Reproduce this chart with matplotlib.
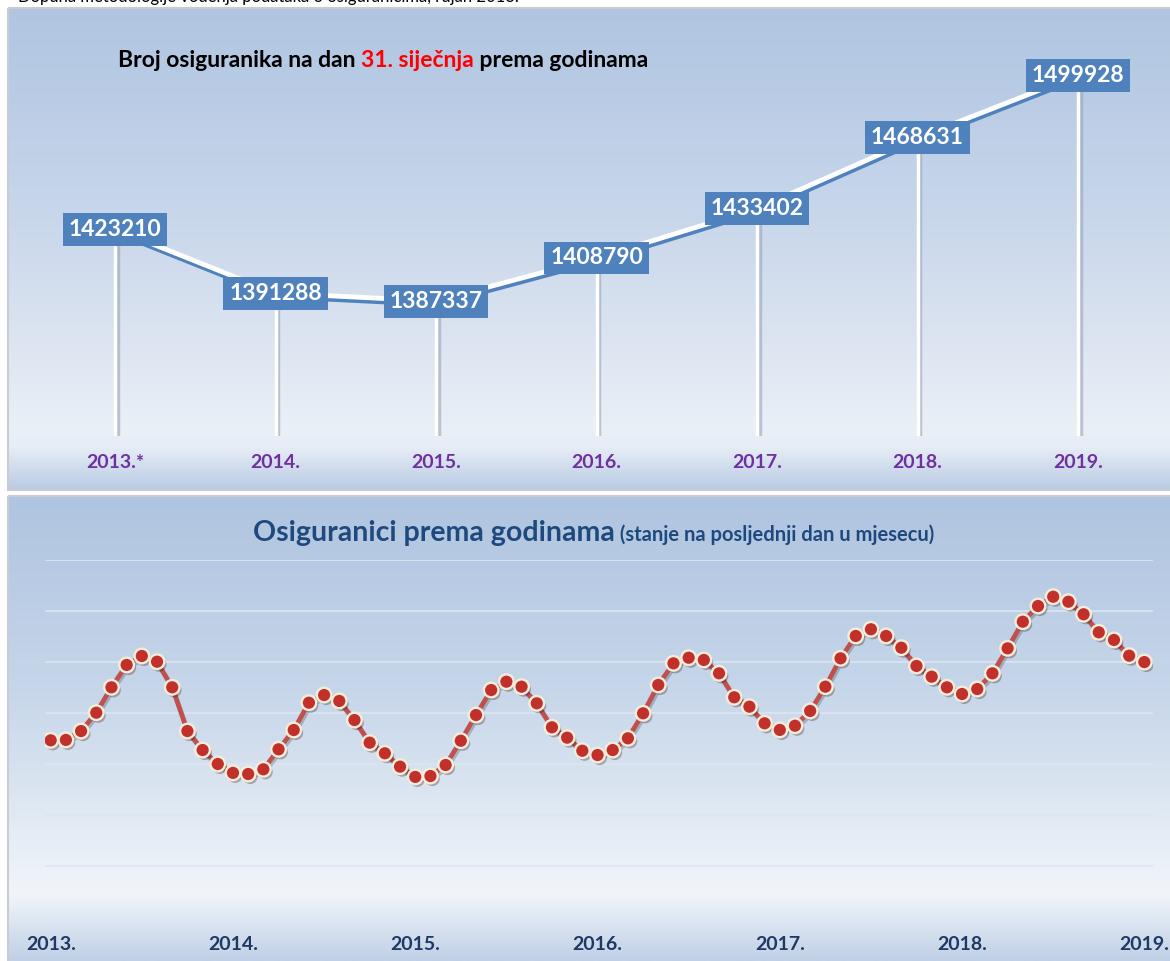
import numpy as np
import matplotlib
matplotlib.use("Agg")
import matplotlib.pyplot as plt
import matplotlib.patheffects as pe
from matplotlib.patches import Rectangle
from matplotlib.colors import to_rgb

plt.rcParams['font.family'] = ['Lato', 'DejaVu Sans']

W, H = 1170, 961

# top chart - insured persons on 31 January
years_top = ['2013.*', '2014.', '2015.', '2016.', '2017.', '2018.', '2019.']
jan_values = [1423210, 1391288, 1387337, 1408790, 1433402, 1468631, 1499928]

# bottom chart - end of month values, Jan 2013 .. Jan 2019
monthly_2013 = [1423210, 1423600, 1432300, 1450300, 1475200, 1497100,
                1505900, 1500300, 1475200, 1432300, 1413700, 1400000]
monthly_2014 = [1391288, 1390200, 1394800, 1414400, 1433300, 1460100,
                1467600, 1461800, 1443100, 1420900, 1410500, 1397400]
monthly_2015 = [1387337, 1388200, 1399000, 1422800, 1448000, 1472500,
                1480700, 1475800, 1459500, 1436000, 1425800, 1413000]
monthly_2016 = [1408790, 1413700, 1425200, 1449700, 1477500, 1498700,
                1504200, 1502000, 1488900, 1465400, 1456200, 1439900]
monthly_2017 = [1433402, 1437500, 1452000, 1475800, 1503600, 1525500,
                1532100, 1525500, 1514000, 1496100, 1485600, 1475200]
monthly_2018 = [1468631, 1473500, 1488900, 1513400, 1539500, 1554900,
                1564000, 1559100, 1546800, 1529100, 1521600, 1506200]
monthly_2019 = [1499928]
year_labels = ['2013.', '2014.', '2015.', '2016.', '2017.', '2018.', '2019.']

monthly = (monthly_2013 + monthly_2014 + monthly_2015 + monthly_2016
           + monthly_2017 + monthly_2018 + monthly_2019)


def axes_px(fig, x0, y0, x1, y1):
    return fig.add_axes([x0 / W, 1 - y1 / H, (x1 - x0) / W, (y1 - y0) / H])


def gradient(y0, y1, stops):
    ys = np.linspace(y0, y1, 300)
    pos = [s[0] for s in stops]
    cols = np.array([to_rgb(s[1]) for s in stops])
    img = np.stack([np.interp(ys, pos, cols[:, k]) for k in range(3)], axis=-1)
    return img[:, None, :]


fig = plt.figure(figsize=(W / 100, H / 100), dpi=100)
fig.patch.set_facecolor('white')

# ---- backgrounds ----
bg = fig.add_axes([0, 0, 1, 1])
bg.set_xlim(0, W)
bg.set_ylim(H, 0)
bg.axis('off')

top_stops = [(8, '#B0C5E1'), (200, '#C6D5EA'), (330, '#DAE3F0'), (430, '#EAF0F7'),
             (448, '#E6EDF6'), (490, '#B9CBE3')]
bg.imshow(gradient(8, 490, top_stops), extent=(8, W, 490, 8), aspect='auto')
bg.add_patch(Rectangle((8, 8), W, 482, fill=False, ec='#C9CDD3', lw=1.5))

bot_stops = [(496, '#AFC4E0'), (700, '#C8D7EA'), (860, '#EAF0F7'), (895, '#F1F5FA'),
             (961, '#C0D0E6')]
bg.imshow(gradient(496, H, bot_stops), extent=(8, W, H, 496), aspect='auto')
bg.add_patch(Rectangle((8, 496), W, 470, fill=False, ec='#C9CDD3', lw=1.5))

# header line above the chart, cut by the top edge as in the original
fig.text(18 / W, 1 + 3 / H, 'Dopuna metodologije vođenja podataka o osiguranicima, rujan 2013.',
         fontsize=12, color='black', va='center', ha='left')

# ---- top chart ----
ax1 = axes_px(fig, 34.75, 14.7, 1158.25, 436.2)
ax1.set_xlim(-0.5, 6.5)
ax1.set_ylim(1320000, 1530000)
ax1.axis('off')

xs = np.arange(len(jan_values))
for i, v in enumerate(jan_values):
    ax1.plot([i, i], [1320000, v], color='white', lw=2.5, zorder=1,
             path_effects=[pe.SimpleLineShadow(offset=(1.8, 0), shadow_color='#9AA6B8', alpha=0.6),
                           pe.Normal()])
ax1.plot(xs, jan_values, color='white', lw=3.5, zorder=3, solid_capstyle='butt',
         path_effects=[pe.SimpleLineShadow(offset=(0.5, -2.5), shadow_color='#4F81BD', alpha=1),
                       pe.Normal()])
for i, v in enumerate(jan_values):
    ax1.text(i, v, str(v), ha='center', va='center', color='white', fontsize=16.5,
             fontweight='bold', zorder=5,
             bbox=dict(boxstyle='square,pad=0.26', fc='#4F81BD', ec='none'))

for i, lab in enumerate(years_top):
    fig.text((115 + 160.5 * i) / W, 1 - 463 / H, lab, ha='center', va='center',
             color='#7030A0', fontsize=14, fontweight='bold')

# multi-coloured title
renderer = fig.canvas.get_renderer()
x = 118
for part, col in [('Broj osiguranika na dan ', 'black'), ('31. siječnja', '#FF0000'),
                  (' prema godinama', 'black')]:
    t = fig.text(x / W, 1 - 67 / H, part, color=col, fontsize=16.5, fontweight='bold',
                 ha='left', va='baseline')
    x += t.get_window_extent(renderer).width

# ---- bottom chart ----
ax2 = axes_px(fig, 45, 560, 1153, 917)
ax2.set_xlim(-0.375, 72.57)
ax2.set_ylim(1250000, 1600000)
ax2.axis('off')

for g in np.arange(1250000, 1600001, 50000):
    ax2.axhline(g, color='#DCE6F2', lw=1.4, alpha=0.85, zorder=1)

mx = np.arange(len(monthly))
ax2.plot(mx, monthly, color='#C0504D', lw=3.4, zorder=3,
         path_effects=[pe.SimpleLineShadow(offset=(1, -2), alpha=0.2), pe.Normal()])
ax2.plot(mx, monthly, ls='none', marker='o', ms=10.5, mfc='#C2302C', mec='#F3EEDC',
         mew=1.7, zorder=4,
         path_effects=[pe.SimplePatchShadow(offset=(1.5, -2), alpha=0.3), pe.Normal()])

for k, lab in enumerate(year_labels):
    fig.text((50.7 + 15.19 * 12 * k) / W, 1 - 944 / H, lab, ha='center', va='center',
             color='#1F3864', fontsize=14, fontweight='bold')

x = 253
for part, size in [('Osiguranici prema godinama', 20.5), (' (stanje na posljednji dan u mjesecu)', 14.5)]:
    t = fig.text(x / W, 1 - 541 / H, part, color='#1F497D', fontsize=size, fontweight='bold',
                 ha='left', va='baseline')
    x += t.get_window_extent(renderer).width

fig.savefig('out.png', dpi=100)
